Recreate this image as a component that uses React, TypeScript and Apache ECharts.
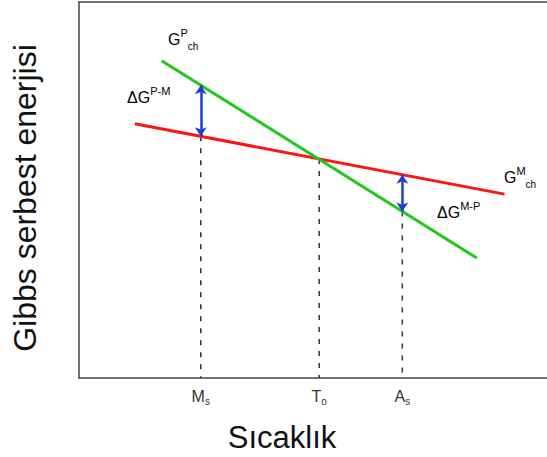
import React, { useEffect, useRef } from "react";
import * as echarts from "echarts";

// Temperature axis: 0..98 (arbitrary units), energy axis: 0..100
const redLine: number[][] = [[11.7, 67.6], [89.1, 48.9]]; // G^M_ch
const greenLine: number[][] = [[17.3, 84.4], [83.3, 31.9]]; // G^P_ch
const tickValues = [25.5, 50.3, 67.7];
const tickMain = ["M", "T", "A"];
const tickSub = ["s", "o", "s"];
// which curve the dashed drop line starts from at each tick
const dropFrom = ["red", "red", "green"];
// arrow ticks (index into tickValues)
const arrowTicks = [0, 2];

function lineAt(line: number[][], x: number): number {
  const [[x0, y0], [x1, y1]] = line;
  return y0 + ((y1 - y0) * (x - x0)) / (x1 - x0);
}

const FONT = "'Liberation Sans', Arial, sans-serif";
const AXIS_LINE = { show: true, lineStyle: { color: "#444", width: 1.5 } };

export default function App() {
  const ref = useRef<HTMLDivElement>(null);
  useEffect(() => {
    document.body.style.margin = "0";
    const chart = echarts.init(ref.current!, null, { renderer: "svg" });

    const dropSeries = tickValues.map((x, i) => ({
      type: "line",
      data: [
        [x, lineAt(dropFrom[i] === "red" ? redLine : greenLine, x)],
        [x, 0],
      ],
      symbol: "none",
      silent: true,
      z: 1,
      lineStyle: { color: "#333", width: 1.5, type: [5, 7] },
    }));

    const arrowData = arrowTicks.map((i) => {
      const x = tickValues[i];
      return { coords: [[x, lineAt(redLine, x)], [x, lineAt(greenLine, x)]] };
    });

    const rich = {
      g: { fontSize: 16, lineHeight: 24, fontFamily: FONT, color: "#222" },
      sup: { fontSize: 11, lineHeight: 11, verticalAlign: "top", fontFamily: FONT, color: "#222" },
      sub: { fontSize: 10, lineHeight: 10, verticalAlign: "bottom", fontFamily: FONT, color: "#222" },
    };

    const ann = (x: number, y: number, text: string) => ({
      type: "text",
      x,
      y,
      style: { text, rich, align: "left", verticalAlign: "middle", fontFamily: FONT },
    });

    chart.setOption({
      animation: false,
      grid: { left: 79, top: 2, bottom: 79, right: 0 },
      xAxis: [
        {
          type: "value",
          min: 0,
          max: 98,
          axisLine: AXIS_LINE,
          axisTick: { show: false },
          splitLine: { show: false },
          axisLabel: {
            customValues: tickValues,
            margin: 8,
            formatter: (v: number) => {
              const i = tickValues.indexOf(v);
              if (i < 0) return "";
              return `{m|${tickMain[i]}}{s|${tickSub[i]}}`;
            },
            rich: {
              m: { fontSize: 16, lineHeight: 20, fontFamily: FONT, color: "#333" },
              s: { fontSize: 10, lineHeight: 10, verticalAlign: "bottom", fontFamily: FONT, color: "#333" },
            },
          },
        },
        {
          type: "value",
          position: "top",
          min: 0,
          max: 98,
          axisLine: AXIS_LINE,
          axisTick: { show: false },
          splitLine: { show: false },
          axisLabel: { show: false },
        },
      ],
      yAxis: {
        type: "value",
        min: 0,
        max: 100,
        axisLine: AXIS_LINE,
        axisTick: { show: false },
        splitLine: { show: false },
        axisLabel: { show: false },
      },
      series: [
        ...dropSeries,
        {
          type: "line",
          data: redLine,
          symbol: "none",
          z: 2,
          lineStyle: { color: "#ff1414", width: 3 },
        },
        {
          type: "line",
          data: greenLine,
          symbol: "none",
          z: 3,
          lineStyle: { color: "#1ec81e", width: 3 },
        },
        {
          type: "lines",
          coordinateSystem: "cartesian2d",
          data: arrowData,
          symbol: ["arrow", "arrow"],
          symbolSize: 9,
          z: 4,
          lineStyle: { color: "#1d3fd4", width: 2.5, opacity: 1 },
        },
      ],
      graphic: [
        {
          type: "text",
          x: 282,
          y: 437,
          style: {
            text: "Sıcaklık",
            fontSize: 31,
            fontFamily: FONT,
            fill: "#111",
            align: "center",
            verticalAlign: "middle",
          },
        },
        {
          type: "text",
          x: 25,
          y: 198,
          rotation: Math.PI / 2,
          style: {
            text: "Gibbs serbest enerjisi",
            fontSize: 32,
            fontFamily: FONT,
            fill: "#111",
            align: "center",
            verticalAlign: "middle",
          },
        },
        ann(168, 39, "{g|G}{sup|P}{sub|ch}"),
        ann(127, 97, "{g|ΔG}{sup|P-M}"),
        ann(437, 212, "{g|ΔG}{sup|M-P}"),
        ann(504, 177, "{g|G}{sup|M}{sub|ch}"),
      ],
    });
    return () => chart.dispose();
  }, []);
  return <div ref={ref} style={{ width: 547, height: 457 }} />;
}
